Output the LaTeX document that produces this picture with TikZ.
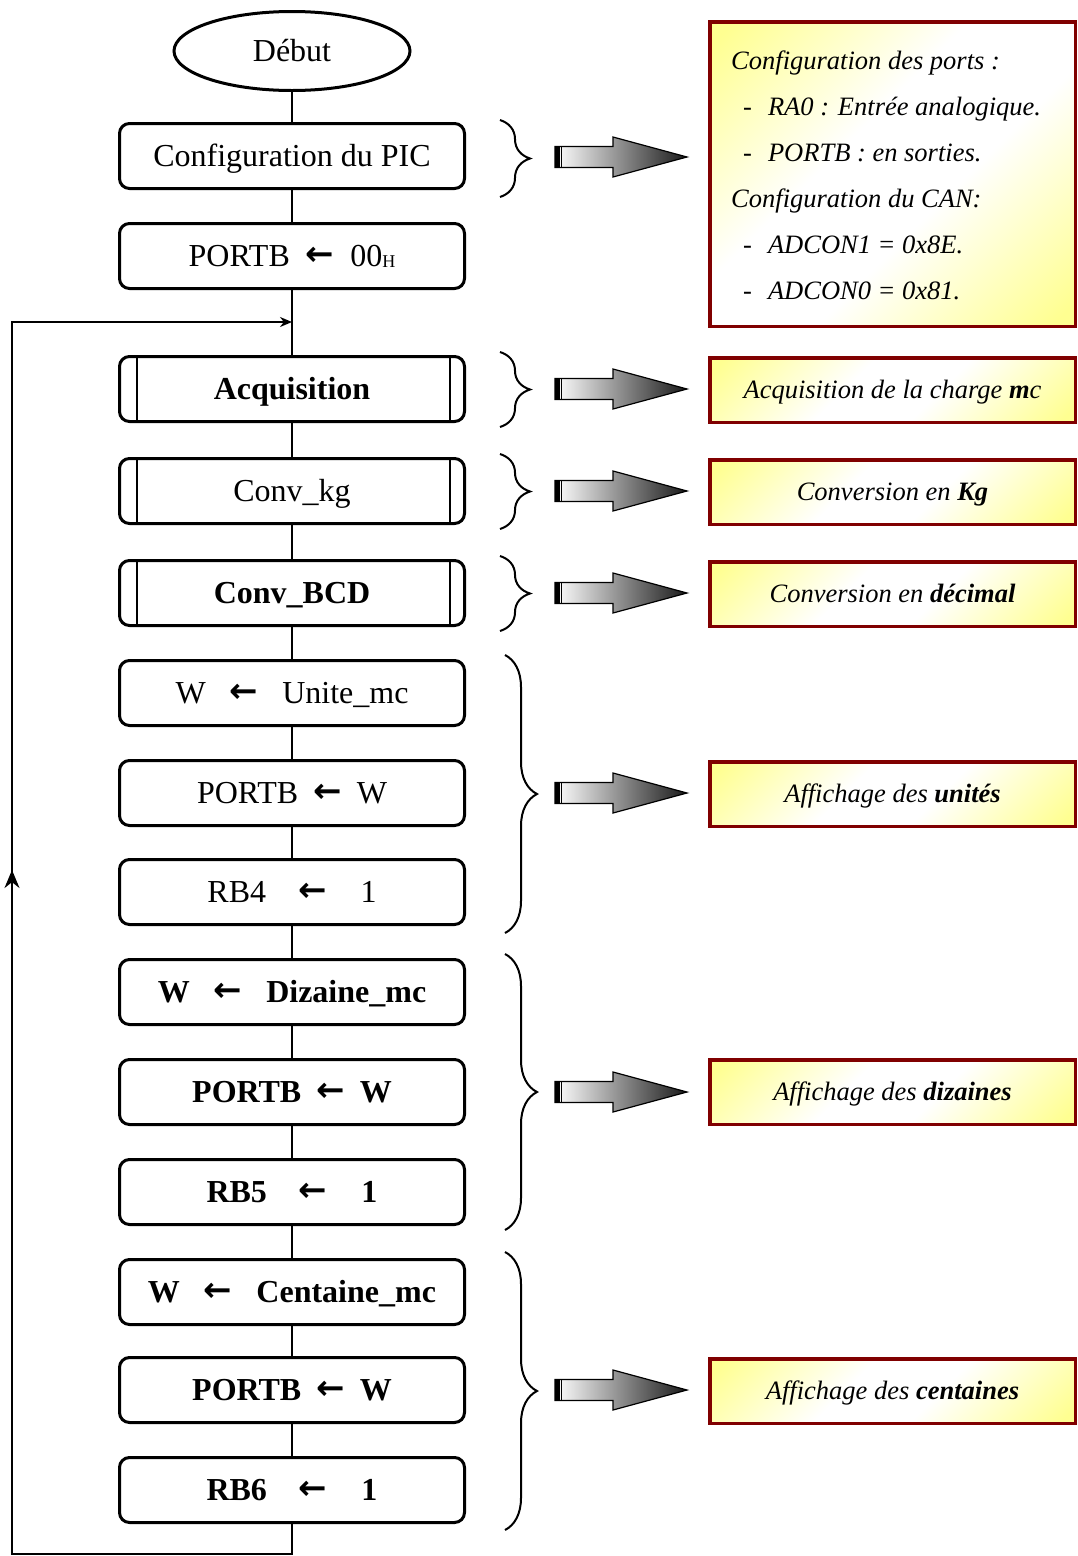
\documentclass[tikz,border=0pt]{standalone}
\usepackage{fontspec}
\setmainfont{Liberation Serif}
\newfontfamily\arrowfont{DejaVu Sans}
\usetikzlibrary{shapes.geometric,decorations.pathreplacing,decorations.markings,arrows.meta}
\definecolor{yl}{RGB}{255,255,145}
\definecolor{dred}{RGB}{128,0,0}
\pgfdeclarehorizontalshading{ywy}{100bp}{color(0bp)=(yl); color(17bp)=(yl); color(42bp)=(white); color(58bp)=(white); color(83bp)=(yl); color(100bp)=(yl)}
\newcommand\larr{\raisebox{1pt}{\arrowfont\bfseries\fontsize{34}{34}\selectfont ←}}
\newcommand\blockarr[1]{%
  \path[draw, line width=1.2pt, left color=white, right color=black!90]
    (555,#1-10.5) -- (613,#1-10.5) -- (613,#1-20) -- (687,#1) -- (613,#1+20) -- (613,#1+10.5) -- (555,#1+10.5) -- cycle;
  \fill (555,#1-10.5) rectangle (559.5,#1+10.5);
  \draw[line width=1.2pt] (561.8,#1-10.5) -- (561.8,#1+10.5);}
\begin{document}
\begin{tikzpicture}[x=1pt,y=-1pt,
  proc/.style={draw, line width=3pt, rounded corners=10pt, minimum width=345pt, minimum height=65pt, inner sep=0pt, text height=21pt, text depth=0pt, font=\fontsize{32}{32}\selectfont},
  bproc/.style={proc, font=\fontsize{32}{32}\selectfont\bfseries},
  subr/.style={proc, path picture={
      \draw[line width=2pt] ([xshift=17pt]path picture bounding box.north west) -- ([xshift=17pt]path picture bounding box.south west);
      \draw[line width=2pt] ([xshift=-15pt]path picture bounding box.north east) -- ([xshift=-15pt]path picture bounding box.south east);}},
  conn/.style={line width=2.5pt},
  info/.style={draw=dred, line width=3.5pt, shading=ywy, shading angle=-45, minimum width=365.5pt, minimum height=64.5pt, inner sep=0pt, text height=17.5pt, text depth=0pt, font=\fontsize{26.5}{26.5}\selectfont\itshape},
  bracea/.style={decorate, decoration={brace, amplitude=30pt}, line width=2pt},
  braceb/.style={decorate, decoration={brace, amplitude=32pt}, line width=2pt}]
\useasboundingbox (0,0) rectangle (1078,1556);
\fill[white] (0,0) rectangle (1078,1556);

% flowchart
\node[ellipse, draw, line width=3pt, minimum width=236pt, minimum height=79pt, inner sep=0pt, text height=21pt, text depth=0pt, font=\fontsize{32}{32}\selectfont] (deb) at (292,51) {Début};
\node[proc] (cfg) at (292,156) {Configuration du PIC};
\node[proc] (pb0) at (292,256) {PORTB\hspace{16pt}\larr\hspace{16pt}00\raisebox{-1pt}{\fontsize{18}{18}\selectfont H}};
\node[subr, font=\fontsize{32}{32}\selectfont\bfseries] (acq) at (292,389) {Acquisition};
\node[subr] (ckg) at (292,491) {Conv\_kg};
\node[subr, font=\fontsize{32}{32}\selectfont\bfseries] (bcd) at (292,593) {Conv\_BCD};
\node[proc] (wu) at (292,693) {W\hspace{24pt}\larr\hspace{24pt}Unite\_mc};
\node[proc] (pbu) at (292,793) {PORTB\hspace{15pt}\larr\hspace{15pt}W};
\node[proc] (rb4) at (292,892) {RB4\hspace{32pt}\larr\hspace{34pt}1};
\node[bproc] (wd) at (292,992) {W\hspace{24pt}\larr\hspace{24pt}Dizaine\_mc};
\node[bproc] (pbd) at (292,1092) {PORTB\hspace{15pt}\larr\hspace{15pt}W};
\node[bproc] (rb5) at (292,1192) {RB5\hspace{32pt}\larr\hspace{34pt}1};
\node[bproc] (wc) at (292,1292) {W\hspace{24pt}\larr\hspace{24pt}Centaine\_mc};
\node[bproc] (pbc) at (292,1390) {PORTB\hspace{15pt}\larr\hspace{15pt}W};
\node[bproc] (rb6) at (292,1490) {RB6\hspace{32pt}\larr\hspace{34pt}1};

\foreach \a/\b in {deb/cfg, cfg/pb0, pb0/acq, acq/ckg, ckg/bcd, bcd/wu, wu/pbu, pbu/rb4, rb4/wd, wd/pbd, pbd/rb5, rb5/wc, wc/pbc, pbc/rb6}
  \draw[conn] (\a) -- (\b);

% loop back
\coordinate (jn) at (292,322);
\coordinate (lb) at (12,1554);
\coordinate (lt) at (12,322);
\draw[line width=2pt, -{Stealth[length=12pt,width=10pt]}, postaction={decorate},
  decoration={markings, mark=at position 994pt with {\arrow{Stealth[length=18pt,width=15pt]}}}]
  (rb6.south) |- (lb) -- (lt) -- (jn);

% braces
\draw[bracea] (500,120) -- (500,197);
\draw[bracea] (500,352) -- (500,427);
\draw[bracea] (500,454) -- (500,529);
\draw[bracea] (500,556) -- (500,631);
\draw[braceb] (505,655) -- (505,933);
\draw[braceb] (505,954) -- (505,1230);
\draw[braceb] (505,1252) -- (505,1530);

% block arrows
\blockarr{157}
\blockarr{389}
\blockarr{491}
\blockarr{593}
\blockarr{793}
\blockarr{1092}
\blockarr{1390}

% info boxes
\node[info, minimum height=304.5pt] (icfg) at (892.5,174) {};
\node[anchor=north west, align=left, inner sep=0pt, font=\fontsize{26.5}{46}\selectfont\itshape] (icfgtxt) at (731,51)
  {Configuration des ports :\\
   \hspace*{12pt}-\hspace{16pt}RA0 : Entrée analogique.\\
   \hspace*{12pt}-\hspace{16pt}PORTB : en sorties.\\
   Configuration du CAN:\\
   \hspace*{12pt}-\hspace{16pt}ADCON1 = 0x8E.\\
   \hspace*{12pt}-\hspace{16pt}ADCON0 = 0x81.};
\node[info] (iacq) at (892.5,390) {Acquisition de la charge \textbf{m}c};
\node[info] (ickg) at (892.5,492) {Conversion en \textbf{Kg}};
\node[info] (ibcd) at (892.5,594) {Conversion en \textbf{décimal}};
\node[info] (iu) at (892.5,794) {Affichage des \textbf{unités}};
\node[info] (id) at (892.5,1092) {Affichage des \textbf{dizaines}};
\node[info] (ic) at (892.5,1391) {Affichage des \textbf{centaines}};
\end{tikzpicture}
\end{document}
